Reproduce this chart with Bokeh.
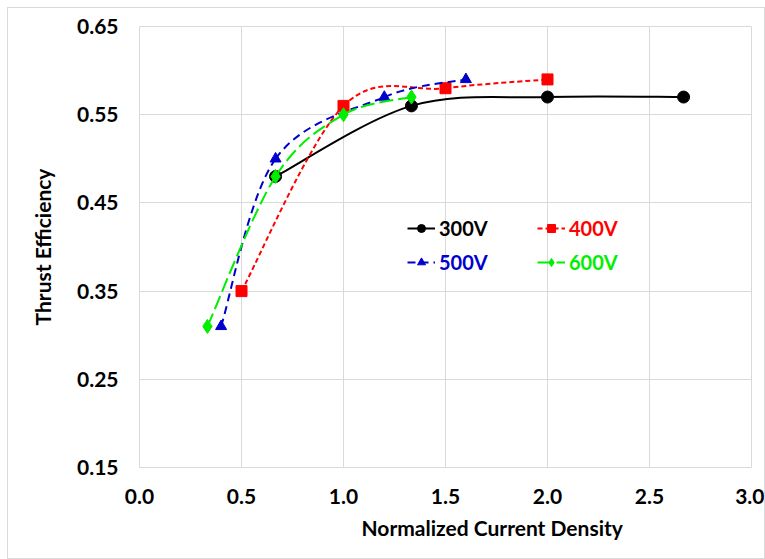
from bokeh.plotting import figure
from bokeh.models import Range1d, FixedTicker, NumeralTickFormatter, Legend, LegendItem, ColumnDataSource, Title
from bokeh.embed import file_html
from bokeh.resources import INLINE

# ---- data ----
series_names = ["300V", "400V", "500V", "600V"]
x_300 = [0.667, 1.333, 2.0, 2.667]
y_300 = [0.48, 0.56, 0.57, 0.57]
x_400 = [0.5, 1.0, 1.5, 2.0]
y_400 = [0.35, 0.56, 0.58, 0.59]
x_500 = [0.4, 0.667, 1.2, 1.6]
y_500 = [0.31, 0.50, 0.57, 0.59]
x_600 = [0.333, 0.667, 1.0, 1.333]
y_600 = [0.31, 0.48, 0.55, 0.57]

x_ticks = [0.0, 0.5, 1.0, 1.5, 2.0, 2.5, 3.0]
y_ticks = [0.15, 0.25, 0.35, 0.45, 0.55, 0.65]

x_title = "Normalized Current Density"
y_title = "Thrust Efficiency"

FONT = "Lato"

def smooth_segments(xs, ys):
    """Catmull-Rom style Bezier control points (like Excel's smoothed line)."""
    n = len(xs)
    d = dict(x0=[], y0=[], x1=[], y1=[], cx0=[], cy0=[], cx1=[], cy1=[])
    for i in range(n - 1):
        i0 = max(i - 1, 0)
        i3 = min(i + 2, n - 1)
        d["x0"].append(xs[i]); d["y0"].append(ys[i])
        d["x1"].append(xs[i + 1]); d["y1"].append(ys[i + 1])
        d["cx0"].append(xs[i] + (xs[i + 1] - xs[i0]) / 6.0)
        d["cy0"].append(ys[i] + (ys[i + 1] - ys[i0]) / 6.0)
        d["cx1"].append(xs[i + 1] - (xs[i3] - xs[i]) / 6.0)
        d["cy1"].append(ys[i + 1] - (ys[i3] - ys[i]) / 6.0)
    return ColumnDataSource(d)

p = figure(width=756, height=550, output_backend="svg", toolbar_location=None,
           x_range=Range1d(0, 3.0), y_range=Range1d(0.15, 0.65),
           min_border_left=131, min_border_right=13, min_border_top=18, min_border_bottom=91)
p.margin = (8, 0, 0, 8)
p.styles = {"outline": "1px solid #d9d9d9"}
p.outline_line_color = "#d9d9d9"
p.outline_line_width = 1
p.background_fill_color = "white"
p.border_fill_color = "white"

p.xaxis.ticker = FixedTicker(ticks=x_ticks)
p.yaxis.ticker = FixedTicker(ticks=y_ticks)
p.xaxis.formatter = NumeralTickFormatter(format="0.0")
p.yaxis.formatter = NumeralTickFormatter(format="0.00")
p.xgrid.grid_line_color = "#d9d9d9"
p.ygrid.grid_line_color = "#d9d9d9"
p.xgrid.grid_line_width = 1
p.ygrid.grid_line_width = 1

for ax in (p.xaxis, p.yaxis):
    ax.axis_line_color = None
    ax.major_tick_line_color = None
    ax.minor_tick_line_color = None
    ax.major_label_text_font = FONT
    ax.major_label_text_font_style = "bold"
    ax.major_label_text_font_size = "21px"
    ax.major_label_text_color = "#000000"
    ax.axis_label_text_font = FONT
    ax.axis_label_text_font_style = "bold"
    ax.axis_label_text_font_size = "21px"
    ax.axis_label_text_color = "#000000"

p.yaxis.axis_label = y_title
p.xaxis.major_label_standoff = 15
p.yaxis.major_label_standoff = 15
p.yaxis.axis_label_standoff = 19

xt = Title(text=x_title, align="left", offset=222, standoff=13,
           text_font=FONT, text_font_style="bold", text_font_size="21px", text_color="#000000")
p.add_layout(xt, "below")

styles = [
    dict(x=x_300, y=y_300, color="#000000", dash="solid", marker="circle", size=12),
    dict(x=x_400, y=y_400, color="#FF0000", dash="5 3", marker="square", size=11),
    dict(x=x_500, y=y_500, color="#0000CC", dash="8 5", marker="triangle", size=11),
    dict(x=x_600, y=y_600, color="#00EE00", dash="14 5", marker="diamond", size=14),
]

legend_locs = [(268, 227), (398, 227), (268, 193), (398, 193)]

for name, s, loc in zip(series_names, styles, legend_locs):
    src = smooth_segments(s["x"], s["y"])
    br = p.bezier(x0="x0", y0="y0", x1="x1", y1="y1", cx0="cx0", cy0="cy0", cx1="cx1", cy1="cy1",
                  source=src, line_color=s["color"], line_width=2, line_dash=s["dash"])
    sr = p.scatter(s["x"], s["y"], marker=s["marker"], size=s["size"],
                   fill_color=s["color"], line_color=s["color"])
    leg = Legend(items=[LegendItem(label=name, renderers=[br, sr])], location=loc,
                 border_line_color=None, background_fill_alpha=0,
                 padding=0, margin=0, spacing=0,
                 glyph_width=28, glyph_height=20, label_height=20, label_standoff=4,
                 label_text_font=FONT, label_text_font_style="bold",
                 label_text_font_size="20px", label_text_color=s["color"])
    p.add_layout(leg)

open("out.html", "w").write(file_html(p, INLINE))
